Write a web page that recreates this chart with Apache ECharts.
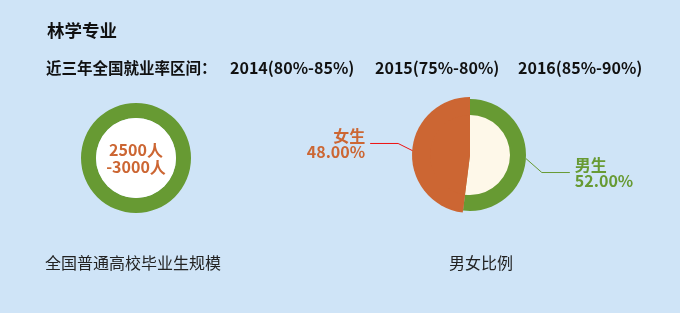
<!DOCTYPE html>
<html><head><meta charset="utf-8">
<script src="https://cdn.jsdelivr.net/npm/echarts@6/dist/echarts.min.js"></script>
<style>html,body{margin:0;padding:0;background:#cfe4f7;}#c{width:680px;height:313px;}</style>
</head><body><div id="c"></div>
<script>
const majorName = '林学专业';
const rateHeader = '近三年全国就业率区间：';
const rateYears = ['2014(80%-85%)', '2015(75%-80%)', '2016(85%-90%)'];
const scaleText = ['2500人', '-3000人'];
const scaleCaption = '全国普通高校毕业生规模';
const genderCaption = '男女比例';
const genderNames = ['男生', '女生'];
const genderValues = [52, 48];

const GREEN = '#679a33', ORANGE = '#cc6633', CREAM = '#fef8e9';
const FONT = '"Noto Sans CJK SC", sans-serif';

const chart = echarts.init(document.getElementById('c'));
const yearLefts = [230, 375, 518];
const bold = (s) => ({fontFamily: FONT, fontSize: s, fontWeight: 'bold', color: '#111'});
const normal = (s) => ({fontFamily: FONT, fontSize: s, fontWeight: 'normal', color: '#222'});
const titles = [
  {text: majorName, left: 47, top: 22, padding: 0, textStyle: bold(17.5)},
  {text: rateHeader, left: 46, top: 60, padding: 0, textStyle: bold(15.5)}
];
rateYears.forEach((t, i) => titles.push({text: t, left: yearLefts[i], top: 60, padding: 0, textStyle: bold(16)}));
titles.push({text: scaleCaption, left: 45, top: 255, padding: 0, textStyle: normal(16)});
titles.push({text: genderCaption, left: 449, top: 255, padding: 0, textStyle: normal(16)});

const genderColors = [GREEN, ORANGE];
const innerColors = [CREAM, ORANGE];
const lineColors = [GREEN, '#ee1111'];
const labelShift = [13, -7];

chart.setOption({
  backgroundColor: '#cfe4f7',
  animation: false,
  title: titles,
  series: [
    {
      type: 'pie', center: [136, 158], radius: [40, 55], silent: true,
      label: {show: true, position: 'center', formatter: scaleText.join('\n'),
        fontFamily: FONT, fontSize: 16, fontWeight: 'bold', color: ORANGE, lineHeight: 17},
      labelLine: {show: false},
      itemStyle: {color: GREEN},
      data: [{value: 1, name: 'scale'}]
    },
    {
      type: 'pie', center: [136, 158], radius: [0, 40], silent: true,
      label: {show: false}, itemStyle: {color: '#ffffff'},
      data: [{value: 1, name: 'inner'}]
    },
    {
      type: 'pie', center: [470, 155], radius: [0, 58], silent: true,
      label: {show: false}, labelLine: {show: false},
      data: genderNames.map((n, i) => ({name: n, value: genderValues[i],
        itemStyle: {color: i === 1 ? ORANGE : 'rgba(0,0,0,0)'}}))
    },
    {
      type: 'pie', center: [470, 155], radius: [0, 56], silent: true,
      label: {show: true, fontFamily: FONT, fontSize: 16, fontWeight: 'bold', lineHeight: 16,
        formatter: p => p.name + '\n' + p.value.toFixed(2) + '%'},
      labelLine: {show: true, length: 16, length2: 28, lineStyle: {width: 1}},
      labelLayout: p => {
        const dy = labelShift[p.dataIndex];
        const pts = p.labelLinePoints;
        const out = {dy: dy};
        if (pts && pts.length === 3) {
          out.labelLinePoints = [pts[0], [pts[1][0], pts[1][1] + dy], [pts[2][0], pts[2][1] + dy]];
        }
        return out;
      },
      data: genderNames.map((n, i) => ({name: n, value: genderValues[i],
        itemStyle: {color: genderColors[i]},
        label: {color: genderColors[i], align: i === 1 ? 'right' : 'left'},
        labelLine: {lineStyle: {color: lineColors[i]}}}))
    },
    {
      type: 'pie', center: [470, 155], radius: [0, 40], silent: true,
      label: {show: false}, labelLine: {show: false},
      data: genderNames.map((n, i) => ({name: n, value: genderValues[i], itemStyle: {color: innerColors[i]}}))
    }
  ]
});
</script></body></html>
